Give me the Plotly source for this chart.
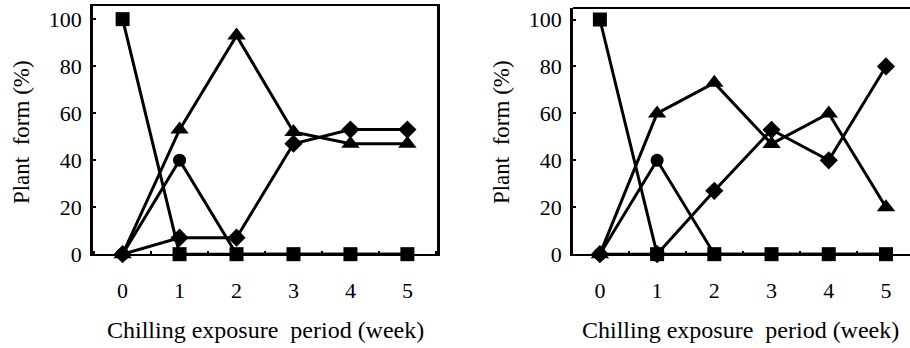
import plotly.graph_objects as go

weeks = [0, 1, 2, 3, 4, 5]
x_tick_labels = ["0", "1", "2", "3", "4", "5"]
y_tick_vals = [0, 20, 40, 60, 80, 100]

# Left panel
left_square = [100, 0, 0, 0, 0, 0]
left_circle = [0, 40, 0, 0, 0, 0]
left_triangle = [0, 53, 93, 52, 47, 47]
left_diamond = [0, 7, 7, 47, 53, 53]

# Right panel
right_square = [100, 0, 0, 0, 0, 0]
right_circle = [0, 40, 0, 0, 0, 0]
right_triangle = [0, 60, 73, 47, 60, 20]
right_diamond = [0, 0, 27, 53, 40, 80]

x_title = "Chilling exposure\u00a0\u00a0period (week)"
y_title = "Plant\u00a0\u00a0form (%)"

W, H = 910, 348
VS = 0.962  # observed vertical scale of the captured page
FONT = "'Liberation Serif', 'Times New Roman', Times, serif"

fig = go.Figure()

series_style = [
    ("diamond", 14),
    ("circle", 13),
    ("triangle-up", 16),
    ("square", 14),
]

def add_panel(xa, ya, square, circle, triangle, diamond):
    for vals, (sym, sz) in zip([diamond, circle, triangle, square], series_style):
        fig.add_trace(go.Scatter(
            x=weeks, y=vals, mode="lines+markers",
            line=dict(color="black", width=3),
            marker=dict(symbol=sym, size=sz, color="black"),
            xaxis=xa, yaxis=ya, cliponaxis=False, showlegend=False,
        ))

add_panel("x", "y", left_square, left_circle, left_triangle, left_diamond)
add_panel("x2", "y2", right_square, right_circle, right_triangle, right_diamond)

def px_x(p):
    return min(1.0, max(0.0, p / W))

def px_y(p):
    return min(1.0, max(0.0, 1 - (p / VS) / H))

common_x = dict(
    tickmode="array", tickvals=weeks, ticktext=x_tick_labels,
    ticks="", showgrid=False, zeroline=False,
    showline=True, linecolor="black", linewidth=2,
    tickfont=dict(family=FONT, size=22, color="black"),
    ticklabelstandoff=15,
    minor=dict(ticks="inside", ticklen=3, tickwidth=2, tickcolor="black",
               dtick=0.5, tick0=0.5, showgrid=False),
)
common_y = dict(
    tickmode="array", tickvals=y_tick_vals,
    ticks="inside", ticklen=3, tickwidth=2, tickcolor="black",
    showgrid=False, zeroline=False,
    showline=True, linecolor="black", linewidth=2.5,
    tickfont=dict(family=FONT, size=22, color="black"),
    ticklabelstandoff=4,
)

fig.update_layout(
    width=W, height=H,
    margin=dict(l=0, r=0, t=0, b=0),
    paper_bgcolor="white", plot_bgcolor="white",
    xaxis=dict(domain=[px_x(93), px_x(437)], range=[-0.52, 5.52], anchor="y",
               mirror=True, **common_x),
    yaxis=dict(domain=[px_y(254), px_y(6)], range=[0, 105.6], anchor="x",
               mirror=True, **common_y),
    xaxis2=dict(domain=[px_x(573), 1.0], range=[-0.47, 5.42], anchor="y2",
                **common_x),
    yaxis2=dict(domain=[px_y(254), px_y(8)], range=[0, 104.9], anchor="x2",
                **common_y),
)

# top border of right panel (no right border visible)
fig.add_shape(type="line", xref="paper", yref="paper",
              x0=px_x(573), x1=1.0, y0=px_y(8), y1=px_y(8),
              line=dict(color="black", width=2))

xt_font = dict(family=FONT, size=24, color="black")
yt_font = dict(family=FONT, size=23, color="black")
fig.add_annotation(text=x_title, xref="paper", yref="paper",
                   x=px_x(265), y=px_y(330), showarrow=False, font=xt_font,
                   xanchor="center", yanchor="middle")
fig.add_annotation(text=x_title, xref="paper", yref="paper",
                   x=px_x(740), y=px_y(330), showarrow=False, font=xt_font,
                   xanchor="center", yanchor="middle")
fig.add_annotation(text=y_title, xref="paper", yref="paper",
                   x=px_x(21), y=px_y(132), showarrow=False, font=yt_font,
                   textangle=-90, xanchor="center", yanchor="middle")
fig.add_annotation(text=y_title, xref="paper", yref="paper",
                   x=px_x(501), y=px_y(132), showarrow=False, font=yt_font,
                   textangle=-90, xanchor="center", yanchor="middle")

fig.write_html(
    "out.html",
    config={"displayModeBar": False},
    post_script="document.body.style.margin='0';document.body.style.overflow='hidden';",
)
